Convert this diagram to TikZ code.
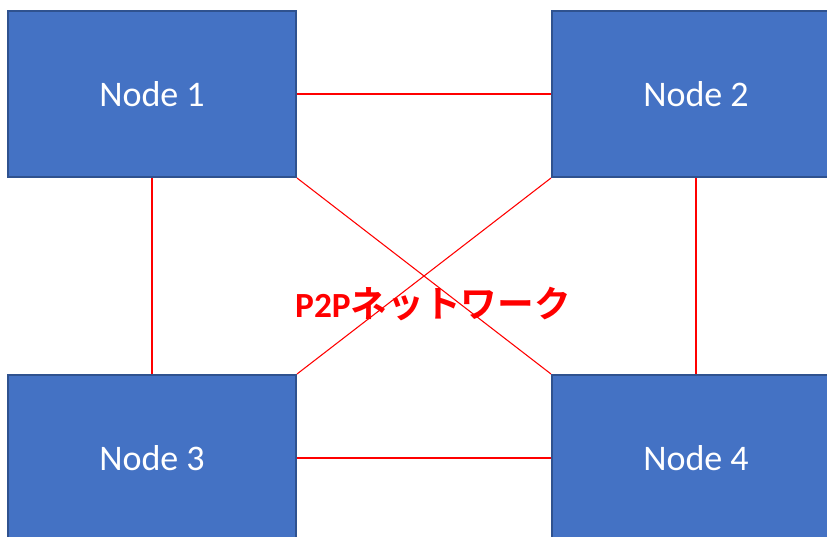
\documentclass[tikz,border=0pt]{standalone}
\usepackage{fontspec}
\setmainfont{Carlito}
\newfontfamily\jpfont{Noto Sans CJK JP}[BoldFont={Noto Sans CJK JP Bold}]
\usepackage{tikz}

\definecolor{boxfill}{HTML}{4472C4}
\definecolor{boxline}{HTML}{2F528F}

\begin{document}
\begin{tikzpicture}[x=0.75pt,y=-0.75pt,
    peer/.style={draw=boxline,line width=1.5pt,fill=boxfill,
      minimum width=216pt,minimum height=124.5pt,inner sep=0pt,
      text=white,font=\fontsize{27}{32}\selectfont},
    link/.style={red,line width=0.8pt}]
            \clip (0,0) rectangle (827,536);
            \node[peer] (n1) at (152,94) {Node 1};
            \node[peer] (n2) at (696,94) {Node 2};
            \node[peer] (n3) at (152,458) {Node 3};
            \node[peer] (n4) at (696,458) {Node 4};
            \draw[link] (n1.east) -- (n2.west);
            \draw[link] (n3.east) -- (n4.west);
            \draw[link] (n1.south) -- (n3.north);
            \draw[link] (n2.south) -- (n4.north);
            \draw[link] (n1.south east) -- (n4.north west);
            \draw[link] (n2.south west) -- (n3.north east);
            \node[text=red,font=\bfseries\fontsize{26.5}{30}\selectfont] (net) at (433,304)
                {P2P{\jpfont\fontsize{27.5}{30}\selectfont ネットワーク}};
        \end{tikzpicture}
\end{document}
